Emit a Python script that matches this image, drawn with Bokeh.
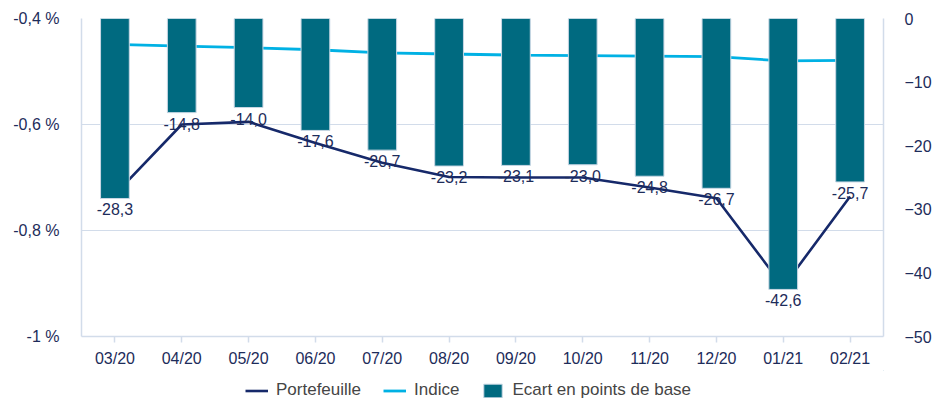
from bokeh.plotting import figure
from bokeh.models import (ColumnDataSource, LinearAxis, Range1d, FactorRange, FixedTicker,
                          LabelSet, Legend, LegendItem)
from bokeh.layouts import column
from bokeh.core.properties import value
from bokeh.embed import file_html
from bokeh.resources import INLINE

months = ["03/20", "04/20", "05/20", "06/20", "07/20", "08/20",
          "09/20", "10/20", "11/20", "12/20", "01/21", "02/21"]
portefeuille = [-0.732, -0.600, -0.595, -0.635, -0.672, -0.699,
                -0.700, -0.700, -0.719, -0.739, -0.906, -0.736]
indice = [-0.449, -0.452, -0.455, -0.459, -0.465, -0.467,
          -0.469, -0.470, -0.471, -0.472, -0.480, -0.479]
ecart = [-28.3, -14.8, -14.0, -17.6, -20.7, -23.2,
         -23.1, -23.0, -24.8, -26.7, -42.6, -25.7]
ecart_labels = ["-28,3", "-14,8", "-14,0", "-17,6", "-20,7", "-23,2",
                "-23,1", "-23,0", "-24,8", "-26,7", "-42,6", "-25,7"]
left_ticks = [-1.0, -0.8, -0.6, -0.4]
left_tick_labels = ["-1 %", "-0,8 %", "-0,6 %", "-0,4 %"]
right_ticks = [-50, -40, -30, -20, -10, 0]
series_names = ["Portefeuille", "Indice", "Ecart en points de base"]

FONT = "Liberation Sans"
NAVY_TXT = "#1d2c5a"
GRID = "#d2dcea"
C_PORT = "#16296a"
C_IND = "#00b1e4"
C_BAR = "#006a80"
C_BAR_EDGE = "#c9d7e4"

src = ColumnDataSource(dict(month=months, port=portefeuille, ind=indice,
                            ecart=ecart, lab=ecart_labels))

p = figure(width=934, height=370, x_range=FactorRange(*months, range_padding=0),
           y_range=Range1d(-1.0, -0.4), output_backend="svg", toolbar_location=None,
           min_border_left=81, min_border_right=46, min_border_top=18, min_border_bottom=34)
p.extra_y_ranges = {"bp": Range1d(-50, 0)}
p.outline_line_color = None
p.background_fill_color = "white"
p.border_fill_color = "white"

# lines (drawn below bars)
p.line("month", "port", source=src, line_color=C_PORT, line_width=2.6)
p.line("month", "ind", source=src, line_color=C_IND, line_width=2.8)
# bars hanging from 0 on the bp axis
p.vbar(x="month", top=0, bottom="ecart", width=0.43, source=src, y_range_name="bp",
       fill_color=C_BAR, line_color=C_BAR_EDGE, line_width=1)

labels = LabelSet(x="month", y="ecart", text="lab", source=src, y_range_name="bp",
                  text_align="center", text_baseline="top", y_offset=-5,
                  text_font=value(FONT), text_font_size=value("16px"),
                  text_color=NAVY_TXT)
p.add_layout(labels)

# left axis
ax = p.yaxis[0]
ax.ticker = FixedTicker(ticks=left_ticks)
ax.major_label_overrides = {t: l for t, l in zip(left_ticks, left_tick_labels)}
ax.major_tick_line_color = None
ax.major_tick_out = 0
ax.major_tick_in = 0
ax.minor_tick_line_color = None
ax.major_label_standoff = 22
ax.axis_line_color = GRID
ax.axis_line_width = 1.5
ax.major_label_text_font = FONT
ax.major_label_text_font_size = "16px"
ax.major_label_text_color = NAVY_TXT

# right axis
rax = LinearAxis(y_range_name="bp", ticker=FixedTicker(ticks=right_ticks))
rax.major_tick_line_color = None
rax.major_tick_out = 0
rax.major_tick_in = 0
rax.minor_tick_line_color = None
rax.major_label_standoff = 21
rax.axis_line_color = GRID
rax.axis_line_width = 1.5
rax.major_label_text_font = FONT
rax.major_label_text_font_size = "16px"
rax.major_label_text_color = NAVY_TXT
p.add_layout(rax, "right")

# x axis
xax = p.xaxis[0]
xax.axis_line_color = GRID
xax.axis_line_width = 1.5
xax.major_tick_line_color = GRID
xax.major_tick_line_width = 1.5
xax.major_tick_in = 0
xax.major_tick_out = 6
xax.major_label_standoff = 7
xax.major_label_text_font = FONT
xax.major_label_text_font_size = "16px"
xax.major_label_text_color = NAVY_TXT
xax.group_text_font_size = "0px"

p.xgrid.grid_line_color = None
p.ygrid.grid_line_color = GRID
p.ygrid.grid_line_width = 1.2
p.ygrid.ticker = FixedTicker(ticks=left_ticks)

# legend strip (separate small figure below the chart; its renderers sit outside its ranges)
lg = figure(width=934, height=28, x_range=Range1d(0, 1), y_range=Range1d(0, 1),
            output_backend="svg", toolbar_location=None,
            min_border_left=0, min_border_right=0, min_border_top=0, min_border_bottom=0)
lg.axis.visible = False
lg.grid.visible = False
lg.outline_line_color = None
dummy = ColumnDataSource(dict(x=[5.0], y=[5.0], top=[6.0], bottom=[5.0]))
l1 = lg.line("x", "y", source=dummy, line_color=C_PORT, line_width=2.6)
l2 = lg.line("x", "y", source=dummy, line_color=C_IND, line_width=2.8)
l3 = lg.vbar(x="x", top="top", bottom="bottom", width=0.1, source=dummy,
             fill_color=C_BAR, line_color=C_BAR_EDGE, line_width=1)
legend = Legend(items=[LegendItem(label=series_names[0], renderers=[l1]),
                       LegendItem(label=series_names[1], renderers=[l2]),
                       LegendItem(label=series_names[2], renderers=[l3])],
                location=(164, -2), orientation="horizontal",
                glyph_width=23, glyph_height=17, label_height=17,
                label_standoff=8, spacing=22, padding=0, margin=0,
                border_line_color=None, background_fill_alpha=0,
                label_text_font=FONT, label_text_font_size="17px",
                label_text_color="#454545")
lg.add_layout(legend)

open("out.html", "w").write(file_html(column(p, lg), INLINE))
